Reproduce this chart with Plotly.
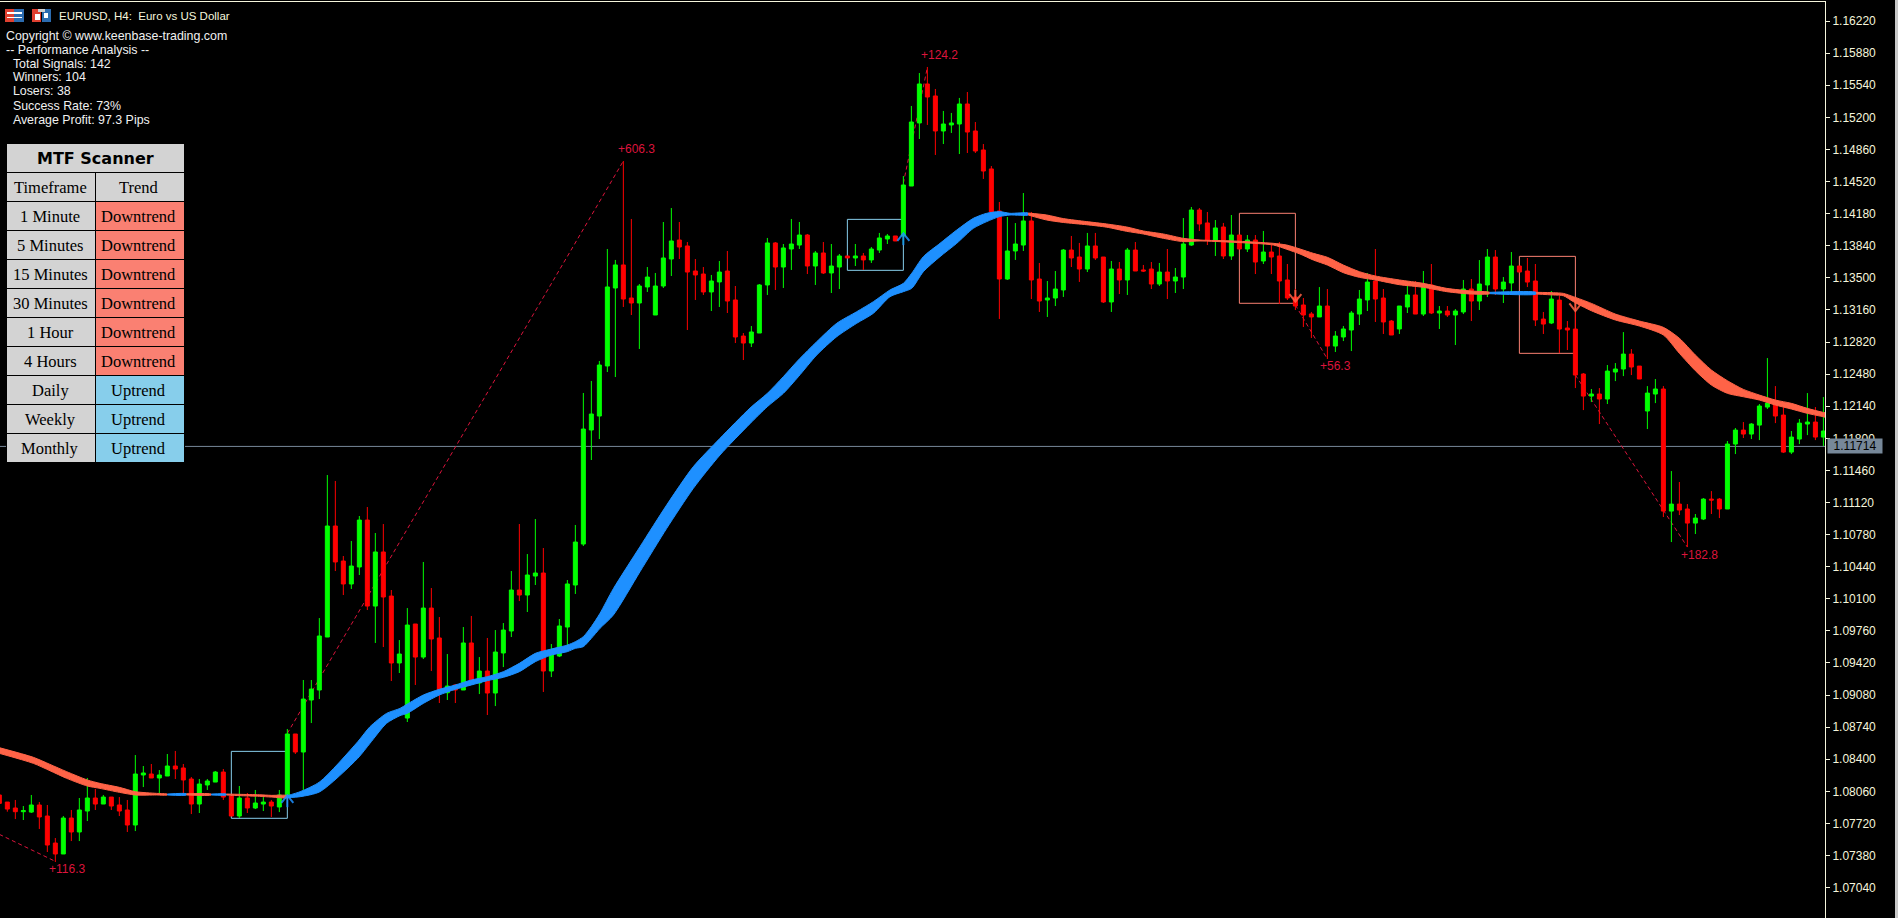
import numpy as np
import plotly.graph_objects as go

# ---- candles, in points (1 point = 0.00001) ----
direction = ("RRRGGRRRGRGGRGRRRGGRGGRRRGGGRR"
             "GRGGRGGRGGGGRRGGRGRR"
             "GGRGRRGRGRGRGGGRGGRG"
             "GGGGGGGGRRGGGGGRRRRG"
             "GRRRGGGRGGGRGRGGRGRG"
             "GGRGGGRRGGGRRRRRGGGR"
             "RGGGRRGRRGRGRRRGRGGG"
             "RRGRGRGRGRRRRRRGRGGG"
             "GGRRRGGRGRGRGGRGGRGG"
             "RRRRGRRRRGRGGGRRGGRG"
             "RRGGRRGGRGGGRRGGGRG")

body_top = [
108022,107947,107884,107856,107916,107916,107799,107513,107778,107778,
107863,107990,107990,108000,108000,107916,107863,108244,108255,108244,
108234,108329,108329,108308,108191,108138,108170,108265,108265,108011,
107990,107990,107937,107947,107947,108022,108668,108668,109038,109144,
109706,110871,110871,110500,110447,110934,110934,110596,110596,110129,
109515,109822,109833,110002,110002,109685,109176,109187,109632,109632,
109335,109335,109536,109769,110193,110193,110352,110373,110373,109504,
109812,110257,110701,111898,112057,112576,113403,113636,113636,113286,
113413,113508,113413,113710,113890,113900,113837,113572,113540,113466,
113561,113572,113265,112883,112926,113424,113869,113869,113816,113858,
113953,113953,113763,113763,113625,113731,113731,113731,113731,113805,
113922,113943,113943,114483,115150,115553,115553,115426,115129,115140,
115341,115341,115055,114854,114653,114208,113784,113858,114102,114102,
113487,113286,113381,113794,113794,113720,113837,113837,113720,113593,
113593,113794,113794,113583,113593,113561,113561,113508,113858,114218,
114218,114081,114028,114038,113953,113953,113900,113900,113773,113773,
113731,113477,113297,113212,113117,113201,113201,112883,112958,113127,
113275,113455,113466,113286,113042,113201,113318,113318,113424,113424,
113148,113148,113148,113381,113381,113434,113720,113720,113455,113625,
113625,113572,113466,113063,113275,113264,112968,112957,112481,112269,
112269,112512,112534,112692,112692,112565,112279,112322,112322,111103,
111103,111051,110955,111156,111156,111156,111739,111887,111887,111951,
112142,112173,112173,112046,111813,111961,111972,111972,111877]

body_bottom = [
107933,107873,107845,107845,107841,107789,107492,107397,107397,107630,
107630,107852,107926,107926,107905,107852,107704,107704,108234,108202,
108202,108223,108297,108181,107926,107926,108128,108159,108000,107799,
107799,107884,107884,107926,107905,107895,108011,108477,108477,109028,
109134,109695,110490,110257,110257,110437,110023,110023,110119,109420,
109420,108837,109483,109483,109674,109102,109105,109134,109134,109218,
109208,109102,109102,109526,109759,110140,110140,110341,109335,109335,
109494,109801,110246,110680,111888,112036,112566,113392,113275,113233,
113233,113403,113106,113413,113699,113826,113561,113530,113350,113350,
113456,113254,112873,112809,112809,112915,113424,113614,113614,113805,
113847,113625,113625,113551,113551,113614,113710,113710,113689,113689,
113794,113911,113890,113943,114472,115140,115415,115055,115055,115119,
115129,115044,114843,114631,114197,113487,113487,113784,113847,113477,
113254,113265,113286,113371,113710,113593,113593,113710,113244,113244,
113477,113477,113572,113572,113434,113434,113466,113466,113508,113847,
114070,113900,113890,113731,113731,113805,113805,113667,113678,113720,
113466,113286,113201,113106,113085,113085,112777,112777,112873,112947,
113116,113265,113275,113032,112894,112958,113191,113116,113116,113127,
113127,113106,113106,113138,113254,113254,113424,113381,113381,113445,
113561,113455,113053,113010,113021,112957,112947,112470,112247,112247,
112216,112216,112502,112534,112555,112428,112089,112269,111029,111029,
111040,110902,110902,110945,111146,111051,111051,111739,111845,111845,
111940,112131,112036,111654,111654,111792,111951,111813,111813]

high = [
108040,107947,107969,107905,108022,107947,107916,107566,107799,107863,
107990,108202,108085,108022,108000,108000,107969,108445,108329,108350,
108286,108456,108488,108350,108212,108191,108191,108276,108297,108011,
108117,108043,108075,108000,107969,108075,108721,108668,109240,109240,
109896,111411,111348,110553,110712,110977,111072,110797,110892,110193,
109663,110002,109833,110490,110214,109907,109515,109197,109801,109918,
109483,109685,109769,109843,110394,110892,110574,110945,110638,109621,
109886,110299,110882,112280,112407,112619,113805,113689,114737,114123,
113434,113614,113551,114091,114239,114091,113879,113699,113614,113530,
113678,113784,113413,112915,112989,113434,113922,113879,113858,114123,
114091,113964,113784,113879,113858,113752,113731,113858,113763,113826,
113975,113964,113943,114578,115320,115669,115733,115500,115267,115246,
115405,115468,115150,114917,114684,114303,114144,114080,114398,114197,
113657,113466,113572,113805,113943,113869,113975,113975,113720,113678,
113667,113816,113879,113636,113667,113657,113805,113604,114133,114250,
114239,114197,114112,114081,114165,113953,113953,113953,113996,113847,
113879,113646,113381,113286,113138,113402,113381,112936,112989,113148,
113371,113551,113805,113381,113053,113201,113466,113466,113572,113646,
113201,113201,113169,113477,113487,113688,113805,113794,113508,113773,
113625,113710,113646,113138,113360,113307,113042,113264,112491,112322,
112332,112576,112597,112925,112745,112565,112353,112428,112353,111453,
111337,111103,110998,111167,111241,111167,111771,111909,111972,111961,
112163,112650,112353,112131,111877,112004,112279,112131,112237]

low = [
107920,107845,107767,107757,107831,107662,107418,107312,107397,107534,
107534,107746,107863,107926,107863,107799,107630,107640,108106,108202,
108032,108223,108191,108032,107820,107831,108075,108159,107969,107799,
107778,107831,107873,107852,107789,107841,107990,108456,108075,108784,
109038,109695,110394,110140,110204,110352,109981,109632,109589,109229,
109314,108795,109187,109462,109335,108996,109028,108996,109134,109197,
109091,108869,108964,109377,109695,110076,109960,110246,109113,109271,
109483,109610,110151,110659,111570,111792,112502,112449,113191,113106,
112746,113350,113106,113392,113519,113699,112947,113265,113318,113148,
113191,113127,112809,112629,112767,112915,113318,113371,113392,113583,
113805,113540,113424,113540,113339,113381,113710,113625,113583,113657,
113763,113858,113890,113858,114472,114970,115119,114801,114917,115034,
114811,114822,114822,114547,114197,113064,113477,113689,113784,113275,
113138,113085,113201,113297,113614,113456,113561,113689,113233,113138,
113328,113318,113572,113561,113381,113413,113275,113339,113381,113837,
113996,113847,113731,113699,113689,113805,113773,113540,113646,113540,
113222,113265,113159,112979,112862,113085,112640,112714,112830,112724,
113000,113148,113032,112905,112894,112905,113127,113116,113095,113116,
112958,113085,112788,113116,113042,113159,113296,113318,113233,113349,
113561,113402,112989,112905,113010,112703,112735,112332,112099,112184,
111951,112163,112406,112459,112470,112428,111898,112173,110966,110701,
110987,110648,110786,110934,110998,110955,111051,111633,111803,111792,
111781,112110,111961,111644,111633,111739,111834,111781,111718]

pts = lambda a: [v / 100000 for v in a]
top_p, bot_p, high_p, low_p = map(pts, (body_top, body_bottom, high, low))
open_ = [b if d == "G" else t for d, t, b in zip(direction, top_p, bot_p)]
close = [t if d == "G" else b for d, t, b in zip(direction, top_p, bot_p)]
candle_index = list(range(len(open_)))

# ---- moving-average ribbon (edges read at these candle positions) ----
band_i = [0,4.25,6.33,8.42,11,12.58,15,17,19.67,21,23.4,26.5,28.4,30,32.5,34,36,37.6,40.08,44.8,46.33,48.4,50.08,51,53,55,57,59,61,63,65,67,69,71,72,73,74,75.08,76.75,
          80.08,83.42,86.75,90.08,93.83,96,98,99.88,102.17,104.67,107.17,109.25,111.33,113,114.04,115.5,117.58,119.67,121.75,123.42,125,126.33,128.6,
          130.92,133,135.92,138.42,140.92,143,145.5,148,150.08,154.25,159.25,160.92,162.58,164.25,166,168,170,172,175,178,180.92,184,186.3,192.1,194.25,195.5,
          196.75,199,202,205,208,210,212,214,216,218,220,222,224,226,228,229]
band_up = [108523,108421,108346,108269,108181,108145,108103,108057,108039,108032,108035,108032,108032,108029,108024,108018,108015,108057,108163,108586,108745,108886,108939,108985,109081,109141,109187,109240,109275,109328,109416,109522,109568,109610,109646,109699,109805,109946,110207,
           110652,111094,111500,111800,112120,112276,112453,112629,112823,113018,113141,113247,113371,113441,113547,113724,113865,114006,114130,114183,114201,114183,114186,
           114165,114127,114095,114070,114038,113996,113964,113918,113900,113890,113865,113847,113805,113759,113717,113635,113565,113519,113477,113441,113388,113360,113346,113346,113342,113335,
           113300,113229,113116,113042,112975,112859,112682,112523,112410,112318,112258,112205,112170,112117,112074,112060]
band_dn = [108463,108357,108279,108198,108117,108092,108050,108022,108022,108022,108022,108022,108022,108015,108008,108000,107993,108004,108057,108410,108569,108781,108862,108887,108992,109081,109141,109187,109233,109268,109328,109434,109504,109540,109575,109593,109681,109787,109928,
           110387,110846,111270,111623,111955,112135,112276,112453,112682,112876,113018,113124,113300,113353,113388,113565,113724,113865,114024,114095,114148,114165,114165,
           114112,114086,114062,114036,113992,113964,113918,113883,113890,113876,113847,113802,113752,113688,113635,113554,113505,113477,113427,113399,113353,113328,113332,113328,113318,113310,
           113247,113151,113053,112989,112894,112700,112516,112364,112276,112240,112205,112152,112110,112064,112028,112010]
band_segments = [(0,21,"red"),(21,23.4,"blue"),(23.4,26.5,"red"),(26.5,28.4,"blue"),(28.4,36,"red"),
                 (36,128.6,"blue"),(128.6,186.3,"red"),(186.3,192.1,"blue"),(192.1,229,"red")]

# ---- signal boxes, arrows, profit lines ----
box_i0 = [29,106,155,190]
box_i1 = [36,113,162,197]
box_top = [1.08484,1.14119,1.14183,1.13727]
box_bottom = [1.07775,1.13579,1.13230,1.12700]
box_kind = ["buy","buy","sell","sell"]

arrow_i = [36,113,162,197]
arrow_tip = [1.08018,1.13971,1.13247,1.13148]
arrow_dir = [1,1,-1,-1]

profit_i0 = [0,36,113,162,197]
profit_p0 = [1.07605,1.08675,1.14501,1.13212,1.12470]
profit_i1 = [7,78,116,166,211]
profit_p1 = [1.07319,1.14737,1.15729,1.12640,1.10648]
profit_text = ["+116.3","+606.3","+124.2","+56.3","+182.8"]
profit_label_i = [8.5,79.6,117.5,167,212.5]
profit_label_p = [1.07234,1.14860,1.15860,1.12566,1.10563]

current_price = 1.11714

tick_labels = ["1.16220","1.15880","1.15540","1.15200","1.14860","1.14520","1.14180","1.13840","1.13500",
               "1.13160","1.12820","1.12480","1.12140","1.11800","1.11460","1.11120","1.10780","1.10440",
               "1.10100","1.09760","1.09420","1.09080","1.08740","1.08400","1.08060","1.07720","1.07380","1.07040"]

scanner_rows = ["1 Minute","5 Minutes","15 Minutes","30 Minutes","1 Hour","4 Hours","Daily","Weekly","Monthly"]
scanner_trend = ["Downtrend"]*6 + ["Uptrend"]*3
info_lines = ["Copyright © www.keenbase-trading.com","-- Performance Analysis --","  Total Signals: 142","  Winners: 104",
              "  Losers: 38","  Success Rate: 73%","  Average Profit: 97.3 Pips"]
chart_title = "EURUSD, H4:  Euro vs US Dollar"

# ---- styling ----
W, H, PL_R, PL_T = 1898, 918, 1825, 2
UP, DN, CREAM, SLATE = "#00FF00", "#FF0000", "#F5F5DC", "#778899"
BLUE, TOMATO, CRIMSON, SKY, SALMON, LGRAY = "#1E90FF", "#FF6347", "#DC143C", "#87CEEB", "#FA8072", "#D3D3D3"
band_col = {"red": TOMATO, "blue": BLUE}
px = lambda x: x / PL_R
py = lambda y: 1 - (y - PL_T) / (H - PL_T)

fig = go.Figure()
fig.add_trace(go.Candlestick(x=candle_index, open=open_, high=high_p, low=low_p, close=close, whiskerwidth=0,
    increasing=dict(line=dict(color=UP, width=1), fillcolor=UP),
    decreasing=dict(line=dict(color=DN, width=1), fillcolor=DN), showlegend=False, hoverinfo="skip"))

bi, bu, bd = np.array(band_i), np.array(band_up) / 1e5, np.array(band_dn) / 1e5
for a, b, c in band_segments:
    m = (bi >= a) & (bi <= b)
    xs = np.r_[bi[m], bi[m][::-1]]
    ys = np.r_[bu[m], bd[m][::-1]]
    fig.add_trace(go.Scatter(x=xs, y=ys, mode="lines", fill="toself", fillcolor=band_col[c],
                             line=dict(color=band_col[c], width=1, shape="spline", smoothing=0.7), showlegend=False, hoverinfo="skip"))

for i, p, d in zip(arrow_i, arrow_tip, arrow_dir):
    c = BLUE if d > 0 else TOMATO
    fig.add_trace(go.Scatter(x=[i-0.75, i, i+0.75, None, i, i],
                             y=[p-d*0.0008, p, p-d*0.0008, None, p, p-d*0.00125],
                             mode="lines", line=dict(color=c, width=2), opacity=0.85, showlegend=False, hoverinfo="skip"))

shapes, ann = [], []
shapes.append(dict(type="line", xref="paper", x0=0, x1=1, yref="y", y0=current_price, y1=current_price,
                   line=dict(color=SLATE, width=1), layer="below"))
for a, b, t, bt, k in zip(box_i0, box_i1, box_top, box_bottom, box_kind):
    shapes.append(dict(type="rect", xref="x", yref="y", x0=a, x1=b, y0=bt, y1=t, layer="below",
                       line=dict(color=SKY if k == "buy" else SALMON, width=1)))
for a, pa, b, pb in zip(profit_i0, profit_p0, profit_i1, profit_p1):
    shapes.append(dict(type="line", xref="x", yref="y", x0=a, x1=b, y0=pa, y1=pb, layer="below",
                       line=dict(color=CRIMSON, width=1, dash="4px,3px")))
for t, i, p in zip(profit_text, profit_label_i, profit_label_p):
    ann.append(dict(x=i, y=p, xref="x", yref="y", text=t, showarrow=False, borderpad=0,
                    font=dict(family="Liberation Sans", size=12, color=CRIMSON)))

def prect(x0, y0, x1, y1, fill, layer="above"):
    shapes.append(dict(type="rect", xref="paper", yref="paper", x0=px(x0), x1=px(x1), y0=py(y0), y1=py(y1),
                       fillcolor=fill, line=dict(width=0), layer=layer))

def ptext(x, y, s, size=12, color="#F0F0F0", fam="Liberation Sans", anchor="left"):
    ann.append(dict(x=px(x), y=py(y), xref="paper", yref="paper", text=s.replace("  ", "&nbsp;&nbsp;"), showarrow=False,
                    xanchor=anchor, yanchor="middle", borderpad=0, font=dict(family=fam, size=size, color=color)))

# price flag
ann.append(dict(x=px(1855), y=current_price, xref="paper", yref="y", text="1.11714", showarrow=False, width=54, height=14,
                xanchor="center", yanchor="middle", bgcolor=SLATE, borderpad=0, font=dict(family="Liberation Sans", size=12, color="#000000")))
# window edge
prect(1895, 0, 1898, H, "#C8C8C8")
# header icons
prect(5, 9, 14, 22, "#E04030"); prect(14, 9, 24, 22, "#2C6CB0"); prect(7, 12, 22, 14, "#FFFFFF"); prect(7, 17, 22, 18, "#FFFFFF")
prect(32, 9, 41, 22, "#E04030"); prect(42, 9, 51, 22, "#2C6CB0"); prect(35, 14, 40, 20, "#FFFFFF"); prect(38, 9, 45, 12, "#D0D0D0"); prect(44, 13, 48, 18, "#FFFFFF")
ptext(58, 16.5, chart_title, size=11.5, color=CREAM)
for n, s in enumerate(info_lines):
    ptext(4.5, 35.5 + 14 * n, s, size=12.4)
# scanner table
prect(6, 143, 185, 463, "#000000")
prect(7, 144, 184, 172, LGRAY)
ptext(95.5, 158.5, "MTF Scanner", size=16, color="#000000", fam="DejaVu Sans", anchor="center")
ann[-1]["text"] = "<b>MTF Scanner</b>"
header = [("Timeframe", "Trend", LGRAY)]
rows = header + [(a, b, SALMON if b == "Downtrend" else SKY) for a, b in zip(scanner_rows, scanner_trend)]
for n, (a, b, col) in enumerate(rows):
    y0 = 173 + 29 * n
    prect(7, y0, 95, y0 + 28, LGRAY)
    prect(96, y0, 184, y0 + 28, col)
    ptext(50, y0 + 14.5, a, size=16.5, color="#000000", fam="Liberation Serif", anchor="center")
    ptext(138.5, y0 + 14.5, b, size=16.5, color="#000000", fam="Liberation Serif", anchor="center")

y_top = 1.16220 + (21 - PL_T) * 0.00010592
y_bot = 1.16220 - (H - 21) * 0.00010592
fig.update_layout(
    width=W, height=H, autosize=False, margin=dict(l=0, r=W - PL_R, t=PL_T, b=0, pad=0),
    paper_bgcolor="#000000", plot_bgcolor="#000000", boxgap=0.5, boxgroupgap=0, showlegend=False, shapes=shapes, annotations=ann,
    xaxis=dict(range=[0.084, 228.2], side="top", showline=True, linecolor=CREAM, linewidth=1, showgrid=False, zeroline=False,
               showticklabels=False, ticks="", rangeslider=dict(visible=False)),
    yaxis=dict(range=[y_bot, y_top], side="right", showline=True, linecolor=CREAM, linewidth=1, showgrid=False, zeroline=False,
               tickmode="array", tickvals=[float(t) for t in tick_labels], ticktext=tick_labels, ticks="outside", ticklen=4,
               tickcolor=CREAM, tickwidth=1, tickfont=dict(family="Liberation Sans", size=12, color=CREAM)),
)
fig.write_html("out.html", config={"displayModeBar": False},
               post_script="document.body.style.margin='0';document.body.style.background='#000';")
